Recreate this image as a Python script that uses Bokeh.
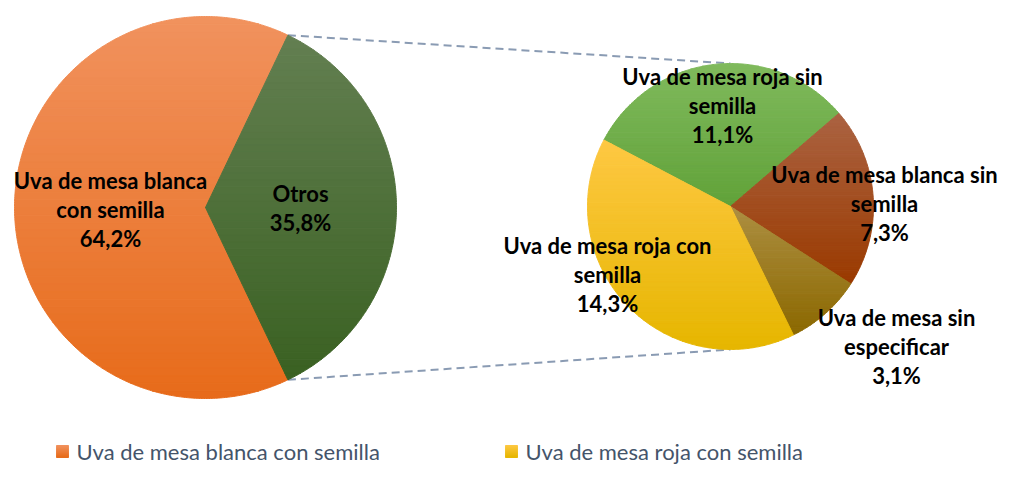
import numpy as np
from bokeh.plotting import figure
from bokeh.models import Range1d, ColumnDataSource
from bokeh.core.properties import value
from bokeh.embed import file_html
from bokeh.resources import INLINE

# ---------------- data ----------------
main_categories = ["Uva de mesa blanca con semilla", "Otros"]
main_values = [64.2, 35.8]
sub_categories = ["Uva de mesa roja sin semilla", "Uva de mesa blanca sin semilla",
                  "Uva de mesa sin especificar", "Uva de mesa roja con semilla"]
sub_values = [11.1, 7.3, 3.1, 14.3]
main_label_lines = [["Uva de mesa blanca", "con semilla"], ["Otros"]]
sub_label_lines = [["Uva de mesa roja sin", "semilla"], ["Uva de mesa blanca sin", "semilla"],
                   ["Uva de mesa sin", "especificar"], ["Uva de mesa roja con", "semilla"]]
legend_labels = ["Uva de mesa blanca con semilla", "Uva de mesa roja con semilla"]

# ---------------- style / layout ----------------
W, H = 1003, 465
main_colors = [("#F1925E", "#E76B1A"), ("#637F51", "#3A6122")]
sub_colors = [("#80BA5D", "#61A239"), ("#AB6342", "#9A3A00"), ("#AD8F42", "#8B6800"), ("#FEC843", "#E6B600")]
legend_colors = [main_colors[0], sub_colors[3]]
L_c, L_r = (205.0, 207.0), 191.0
R_c, R_r = (730.0, 206.0), 143.0
sub_start = 152.3
main_label_pos = [(110, 209), (300, 207.5)]
sub_label_pos = [(722, 105), (884, 203), (896, 346), (607, 273.5)]
LINE_SP = 29
FONT = value("Lato")

p = figure(width=W, height=H, x_range=Range1d(0, W), y_range=Range1d(H, 0),
           output_backend="svg", toolbar_location=None, min_border=0,
           x_axis_type=None, y_axis_type=None)
p.grid.visible = False
p.outline_line_color = None
p.background_fill_color = "white"
p.border_fill_color = "white"


def hex2rgb(h):
    h = h.lstrip("#")
    return np.array([int(h[i:i + 2], 16) for i in (0, 2, 4)], dtype=float)


def mix(c0, c1, t):
    c = hex2rgb(c0) * (1 - t) + hex2rgb(c1) * t
    return "#%02x%02x%02x" % tuple(int(round(v)) for v in c)


def wedge_poly(c, r, a0, a1):
    angs = np.radians(np.linspace(a0, a1, max(8, int(abs(a1 - a0) * 2))))
    pts = [(c[0], c[1])]
    pts += [(c[0] + r * np.cos(a), c[1] - r * np.sin(a)) for a in angs]
    return pts


def clip_band(poly, y0, y1):
    def clip_edge(pts, keep, yl):
        out = []
        n = len(pts)
        for i in range(n):
            cur, prev = pts[i], pts[i - 1]
            cin, pin = keep(cur), keep(prev)
            if cin != pin:
                t = (yl - prev[1]) / (cur[1] - prev[1])
                out.append((prev[0] + t * (cur[0] - prev[0]), yl))
            if cin:
                out.append(cur)
        return out
    pts = clip_edge(poly, lambda q: q[1] >= y0, y0)
    if pts:
        pts = clip_edge(pts, lambda q: q[1] <= y1, y1)
    return pts


xs, ys, cs = [], [], []


def add_gradient(poly, c_top, c_bot, n=50):
    yv = [q[1] for q in poly]
    y_min, y_max = min(yv), max(yv)
    edges = np.linspace(y_min, y_max, n + 1)
    for i in range(n):
        band = clip_band(poly, edges[i], edges[i + 1])
        if len(band) < 3:
            continue
        xs.append([q[0] for q in band])
        ys.append([q[1] for q in band])
        cs.append(mix(c_top, c_bot, (i + 0.5) / n))


# main pie (counter-clockwise, Otros centred on the right)
main_total = sum(main_values)
a = main_values[1] / main_total * 360 / 2
main_angles = []
for v in main_values:
    span = v / main_total * 360
    main_angles.append((a, a + span))
    a += span

# sub pie (clockwise)
sub_total = sum(sub_values)
a = sub_start
sub_angles = []
for v in sub_values:
    span = v / sub_total * 360
    sub_angles.append((a - span, a))
    a -= span

# connector lines (behind pies)
ot0, ot1 = main_angles[1]
top_pt = (L_c[0] + L_r * np.cos(np.radians(ot1)), L_c[1] - L_r * np.sin(np.radians(ot1)))
bot_pt = (L_c[0] + L_r * np.cos(np.radians(ot0)), L_c[1] - L_r * np.sin(np.radians(ot0)))
p.segment(x0=[top_pt[0], bot_pt[0]], y0=[top_pt[1], bot_pt[1]],
          x1=[R_c[0], R_c[0]], y1=[R_c[1] - R_r, R_c[1] + R_r],
          line_color="#8A9BB3", line_width=2, line_dash="8 5")

for (a0, a1), (ct, cb) in zip(main_angles, main_colors):
    add_gradient(wedge_poly(L_c, L_r, a0, a1), ct, cb)
for (a0, a1), (ct, cb) in zip(sub_angles, sub_colors):
    add_gradient(wedge_poly(R_c, R_r, a0, a1), ct, cb)

# legend squares
legend_sq = [(56, 445, 68, 457), (505, 445, 517, 457)]
for (x0, y0, x1, y1), (ct, cb) in zip(legend_sq, legend_colors):
    add_gradient([(x0, y0), (x1, y0), (x1, y1), (x0, y1)], ct, cb, n=12)

src = ColumnDataSource(dict(xs=xs, ys=ys, c=cs))
p.patches("xs", "ys", source=src, fill_color="c", line_color="c", line_width=1)


def pct(v):
    return ("%.1f%%" % v).replace(".", ",")


tx, ty, tt = [], [], []
for lines, v, (cx, cy) in list(zip(main_label_lines, main_values, main_label_pos)) + \
        list(zip(sub_label_lines, sub_values, sub_label_pos)):
    all_lines = lines + [pct(v)]
    n = len(all_lines)
    for i, s in enumerate(all_lines):
        tx.append(cx)
        ty.append(cy + (i - (n - 1) / 2) * LINE_SP)
        tt.append(s)
p.text(x=tx, y=ty, text=tt, text_font=FONT, text_font_style="bold", text_font_size="22px",
       text_align="center", text_baseline="middle", text_color="#000000")

p.text(x=[76, 525], y=[451, 451], text=legend_labels, text_font=FONT, text_font_size="22px",
       text_align="left", text_baseline="middle", text_color="#44546A")

open("out.html", "w").write(file_html(p, INLINE))
